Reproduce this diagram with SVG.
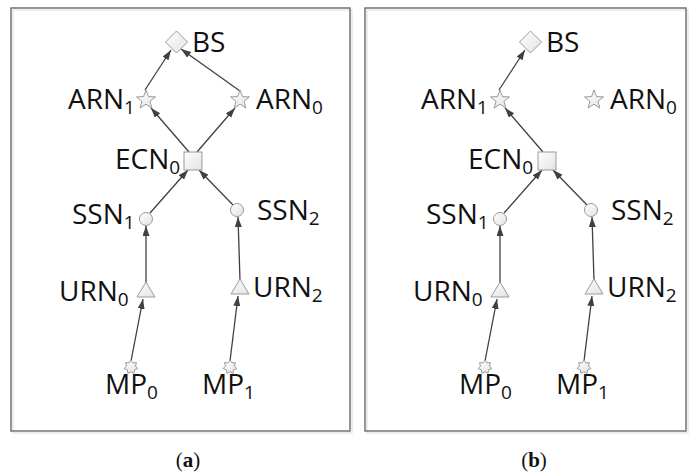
<svg xmlns="http://www.w3.org/2000/svg" xmlns:xlink="http://www.w3.org/1999/xlink" width="691" height="475" viewBox="0 0 691 475">
<style>
.frame{fill:none;stroke:#6a6a6a;stroke-width:1.4}
.shadow{fill:none;stroke:#e6e6e6;stroke-width:1.4}
.shape{fill:url(#g);stroke:#9a9a9a;stroke-width:1}
.lbl{font-family:"Open Sans",Lato,sans-serif;font-size:28px;fill:#111}
.sub{font-size:19px}
.edge{fill:none;stroke:#404040;stroke-width:1.3;marker-end:url(#arr)}
.cap{font-family:"Liberation Serif",serif;font-size:21px;fill:#111}
</style>
<defs>
<linearGradient id="g" x1="0" y1="0" x2="1" y2="1">
<stop offset="0" stop-color="#ffffff"/>
<stop offset="1" stop-color="#e2e2e2"/>
</linearGradient>
<marker id="arr" markerWidth="11" markerHeight="8" refX="10" refY="3.5" orient="auto" markerUnits="userSpaceOnUse">
<path d="M0,0 L10,3.5 L0,7 z" fill="#404040"/>
</marker>
<polygon id="diamond" class="shape" points="0,-11 11,0 0,11 -11,0"/>
<polygon id="star5" class="shape" points="0,-10 2.47,-3.4 9.51,-3.09 3.99,1.3 5.88,8.09 0,4.2 -5.88,8.09 -3.99,1.3 -9.51,-3.09 -2.47,-3.4"/>
<rect id="square" class="shape" x="-9" y="-9" width="18" height="18"/>
<circle id="circ" class="shape" r="6.5"/>
<polygon id="tri" class="shape" points="0,-8 9,7 -9,7"/>
<polygon id="star7" class="shape" points="0,-7 2,-4.14 5.47,-4.36 4.48,-1.02 6.82,1.56 3.6,2.87 3.04,6.31 0,4.6 -3.04,6.31 -3.6,2.87 -6.82,1.56 -4.48,-1.02 -5.47,-4.36 -2,-4.14"/>
</defs>
<rect width="691" height="475" fill="#ffffff"/>
<!-- frames -->
<rect class="shadow" x="13" y="10" width="339" height="423"/>
<rect class="frame" x="11" y="8" width="339" height="423"/>
<rect class="shadow" x="367" y="10" width="321" height="423"/>
<rect class="frame" x="365" y="8" width="321" height="423"/>

<g id="connectors">
<path class="edge" d="M145,90 L171,50"/>
<path class="edge" d="M240,91 L181,49"/>
<path class="edge" d="M189,152 L151,108"/>
<path class="edge" d="M197,152 L235,108"/>
<path class="edge" d="M150,213 L188,170"/>
<path class="edge" d="M233,205 L199,170"/>
<path class="edge" d="M146,283 L146,226"/>
<path class="edge" d="M240,280 L238,217"/>
<path class="edge" d="M131,361 L143,299"/>
<path class="edge" d="M230,361 L238,296"/>

<path class="edge" d="M499,90 L525,50"/>
<path class="edge" d="M543,152 L505,108"/>
<path class="edge" d="M504,213 L542,170"/>
<path class="edge" d="M587,205 L553,170"/>
<path class="edge" d="M500,283 L500,226"/>
<path class="edge" d="M594,280 L592,217"/>
<path class="edge" d="M485,361 L497,299"/>
<path class="edge" d="M584,361 L592,296"/>
</g>

<!-- panel a -->
<g id="a-BS"><use href="#diamond" x="176.5" y="42"/><text class="lbl" x="192" y="52">BS</text></g>
<g id="a-ARN1"><use href="#star5" x="146" y="100"/><text class="lbl" x="68" y="109">ARN<tspan class="sub" dy="5">1</tspan></text></g>
<g id="a-ARN0"><use href="#star5" x="240" y="100"/><text class="lbl" x="256" y="109">ARN<tspan class="sub" dy="5">0</tspan></text></g>
<g id="a-ECN0"><use href="#square" x="193" y="161"/><text class="lbl" x="115" y="169">ECN<tspan class="sub" dy="5">0</tspan></text></g>
<g id="a-SSN1"><use href="#circ" x="146" y="219"/><text class="lbl" x="72" y="224">SSN<tspan class="sub" dy="5">1</tspan></text></g>
<g id="a-SSN2"><use href="#circ" x="237" y="210"/><text class="lbl" x="257" y="220">SSN<tspan class="sub" dy="5">2</tspan></text></g>
<g id="a-URN0"><use href="#tri" x="146" y="290"/><text class="lbl" x="59" y="301">URN<tspan class="sub" dy="5">0</tspan></text></g>
<g id="a-URN2"><use href="#tri" x="240" y="287"/><text class="lbl" x="253" y="297">URN<tspan class="sub" dy="5">2</tspan></text></g>
<g id="a-MP0"><use href="#star7" x="131" y="367"/><text class="lbl" x="105" y="394">MP<tspan class="sub" dy="5">0</tspan></text></g>
<g id="a-MP1"><use href="#star7" x="230" y="367"/><text class="lbl" x="202" y="394">MP<tspan class="sub" dy="5">1</tspan></text></g>

<!-- panel b -->
<g id="b-BS"><use href="#diamond" x="530.5" y="42"/><text class="lbl" x="546" y="52">BS</text></g>
<g id="b-ARN1"><use href="#star5" x="500" y="100"/><text class="lbl" x="421" y="109">ARN<tspan class="sub" dy="5">1</tspan></text></g>
<g id="b-ARN0"><use href="#star5" x="594" y="100"/><text class="lbl" x="610" y="109">ARN<tspan class="sub" dy="5">0</tspan></text></g>
<g id="b-ECN0"><use href="#square" x="547" y="161"/><text class="lbl" x="468" y="169">ECN<tspan class="sub" dy="5">0</tspan></text></g>
<g id="b-SSN1"><use href="#circ" x="500" y="219"/><text class="lbl" x="426" y="224">SSN<tspan class="sub" dy="5">1</tspan></text></g>
<g id="b-SSN2"><use href="#circ" x="591" y="210"/><text class="lbl" x="611" y="220">SSN<tspan class="sub" dy="5">2</tspan></text></g>
<g id="b-URN0"><use href="#tri" x="500" y="290"/><text class="lbl" x="413" y="301">URN<tspan class="sub" dy="5">0</tspan></text></g>
<g id="b-URN2"><use href="#tri" x="594" y="287"/><text class="lbl" x="607" y="297">URN<tspan class="sub" dy="5">2</tspan></text></g>
<g id="b-MP0"><use href="#star7" x="485" y="367"/><text class="lbl" x="459" y="394">MP<tspan class="sub" dy="5">0</tspan></text></g>
<g id="b-MP1"><use href="#star7" x="584" y="367"/><text class="lbl" x="556" y="394">MP<tspan class="sub" dy="5">1</tspan></text></g>

<text class="cap" x="188" y="467" text-anchor="middle">(<tspan font-weight="bold">a</tspan>)</text>
<text class="cap" x="534" y="467" text-anchor="middle">(<tspan font-weight="bold">b</tspan>)</text>
</svg>
